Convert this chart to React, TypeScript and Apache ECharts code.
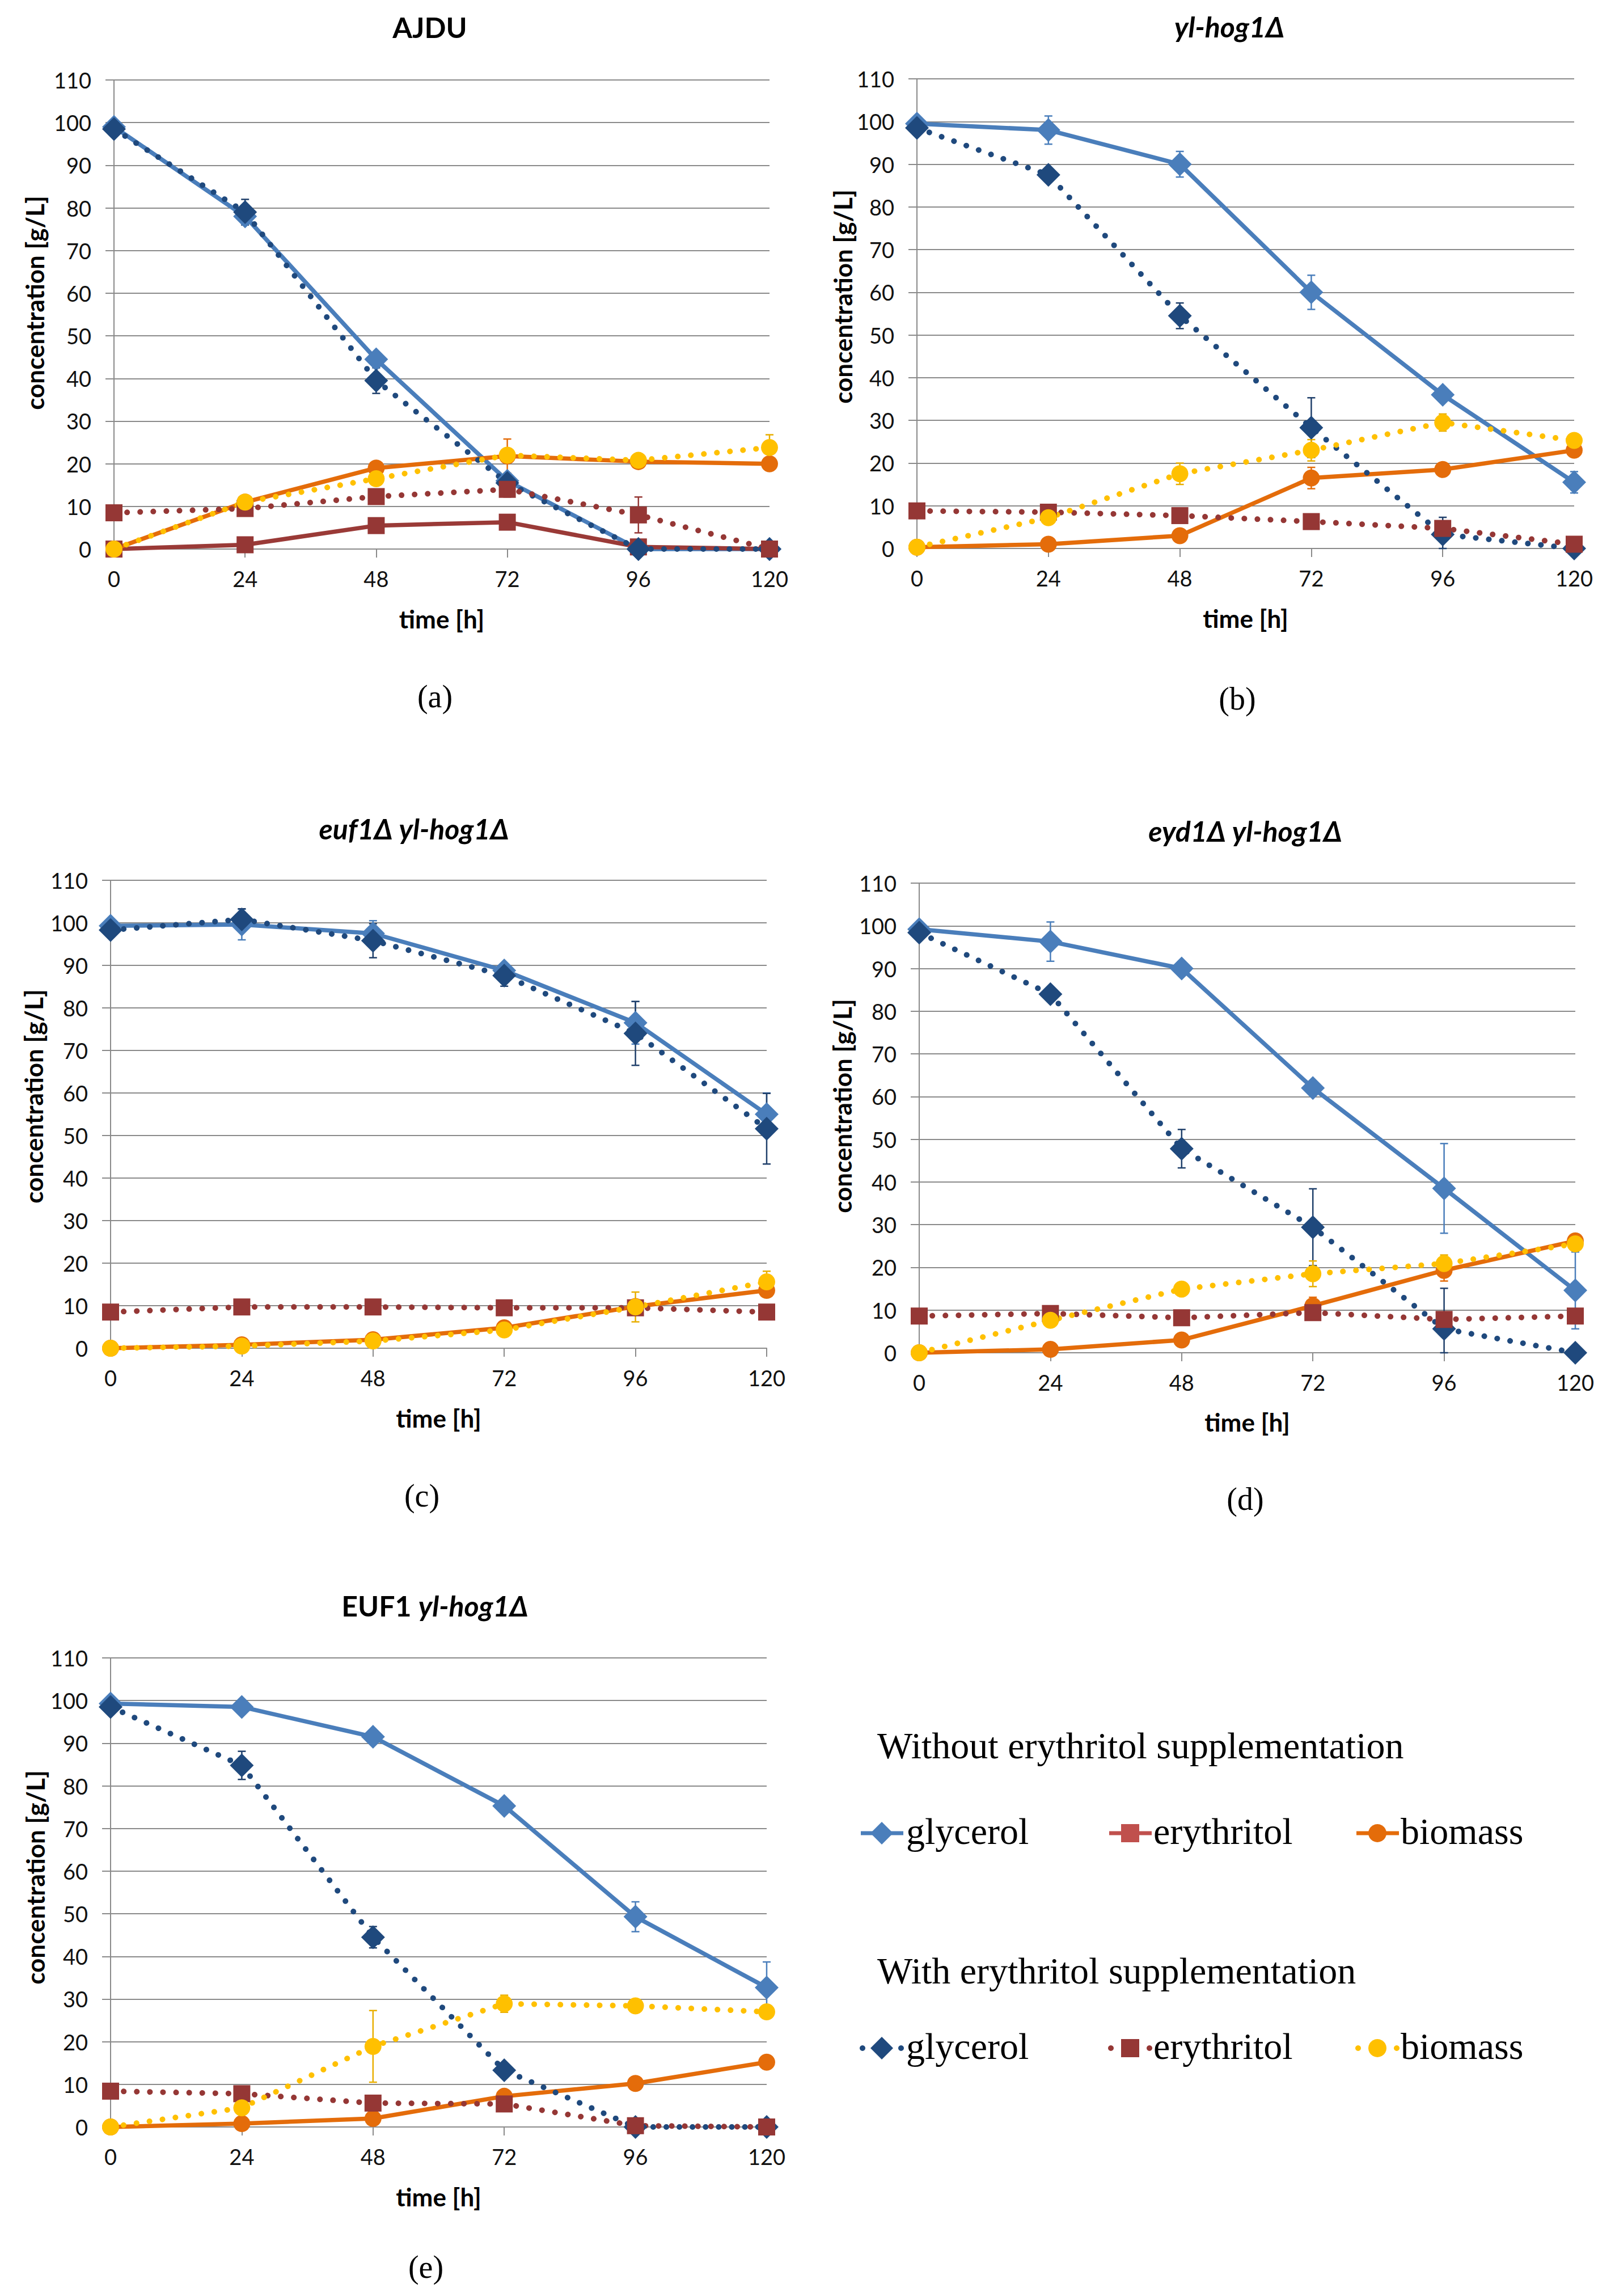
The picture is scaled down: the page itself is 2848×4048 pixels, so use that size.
import React, { useEffect, useRef } from "react";
import * as echarts from "echarts";

// ---------- data ----------
const TIMES = [0, 24, 48, 72, 96, 120];

// (a) AJDU
const aGlyWo = [99, 78, 44.5, 16, 0, 0];
const aEryWo = [0, 1, 5.5, 6.3, 0.5, 0];
const aBioWo = [0, 11, 19, 21.8, 20.5, 20];
const aGlyW = [98.5, 79, 39.5, 15.5, 0, 0];
const aEryW = [8.5, 9.5, 12.3, 14, 8, 0];
const aBioW = [0, 11, 16.5, 22, 20.8, 23.8];
// error bars (sd), 0 = none
const aErrBioWo = [0, 0, 0, 4, 0, 0];
const aErrGlyW = [0, 3, 3, 0, 0, 0];
const aErrEryW = [0, 0, 0, 1.8, 4.2, 0];
const aErrBioW = [0, 0, 0, 0, 0, 3];

// (b) yl-hog1Δ
const bGlyWo = [99.5, 98, 90, 60, 36, 15.5];
const bBioWo = [0.3, 1, 3, 16.5, 18.5, 23];
const bGlyW = [98.5, 87.5, 54.5, 28.3, 3.3, 0];
const bEryW = [8.8, 8.5, 7.7, 6.3, 4.7, 1];
const bBioW = [0.3, 7.2, 17.5, 23, 29.5, 25.3];
const bErrGlyWo = [0, 3.3, 3, 4, 1, 2.5];
const bErrBioWo = [0, 0, 0, 2.5, 0, 0];
const bErrGlyW = [0, 1.5, 3, 7, 4, 0];
const bErrBioW = [0, 0, 2.5, 2.5, 2, 0];

// (c) euf1Δ yl-hog1Δ
const cGlyWo = [99.3, 99.6, 97.5, 88.8, 76.5, 55];
const cBioWo = [0, 0.8, 2, 4.8, 9.8, 13.6];
const cGlyW = [98.3, 100.8, 95.8, 87.6, 74, 51.6];
const cEryW = [8.5, 9.7, 9.7, 9.5, 9.5, 8.5];
const cBioW = [0, 0.5, 1.7, 4.3, 9.7, 15.6];
const cErrGlyWo = [0, 3.6, 3, 1.5, 5, 5];
const cErrGlyW = [0, 2.5, 4, 2.5, 7.5, 8.3];
const cErrBioW = [0, 0, 0, 0, 3.5, 2.5];

// (d) eyd1Δ yl-hog1Δ
const dGlyWo = [99.2, 96.3, 90, 62, 38.5, 14.6];
const dBioWo = [0, 0.8, 3, 11, 19.3, 26.2];
const dGlyW = [98.4, 84, 47.8, 29.4, 5.6, 0];
const dEryW = [8.6, 9.2, 8.2, 9.4, 7.8, 8.6];
const dBioW = [0, 7.6, 14.9, 18.5, 20.9, 25.5];
const dErrGlyWo = [0, 4.6, 0, 0, 10.5, 9];
const dErrBioWo = [0, 0, 0, 2, 2.5, 0];
const dErrGlyW = [0, 0, 4.5, 9, 9.5, 0];
const dErrBioW = [0, 0, 0, 3, 2, 0];

// (e) EUF1 yl-hog1Δ
const eGlyWo = [99.3, 98.5, 91.5, 75.3, 49.3, 32.7];
const eBioWo = [0, 0.8, 2, 7.2, 10.2, 15.2];
const eGlyW = [98.5, 84.8, 44.5, 13.3, 0, 0];
const eEryW = [8.4, 7.8, 5.6, 5.4, 0.3, 0];
const eBioW = [0, 4.5, 18.9, 28.9, 28.4, 27];
const eErrGlyWo = [0, 0, 0, 0, 3.5, 6];
const eErrGlyW = [0, 3.3, 2.5, 0, 0, 0];
const eErrBioW = [0, 0, 8.4, 2, 0, 0];

const LEGEND_HEAD_1 = "Without erythritol supplementation";
const LEGEND_HEAD_2 = "With erythritol supplementation";
const LEGEND_NAMES = ["glycerol", "erythritol", "biomass"];

// ---------- styles ----------
type Key = "glyWo" | "eryWo" | "bioWo" | "glyW" | "eryW" | "bioW";
const ORDER: Key[] = ["glyWo", "eryWo", "bioWo", "glyW", "eryW", "bioW"];
const STYLE: Record<Key, any> = {
  glyWo: { line: "#4A7EBB", marker: "#4A7EBB", symbol: "diamond", size: 42, dotted: false },
  eryWo: { line: "#9A3A37", marker: "#953735", symbol: "rect", size: 30, dotted: false },
  bioWo: { line: "#E46C0A", marker: "#E46C0A", symbol: "circle", size: 30, dotted: false },
  glyW: { line: "#1F497D", marker: "#1F497D", symbol: "diamond", size: 42, dotted: true },
  eryW: { line: "#953735", marker: "#953735", symbol: "rect", size: 30, dotted: true },
  bioW: { line: "#FFC000", marker: "#FFC000", symbol: "circle", size: 30, dotted: true },
};
const ERR_COLOR: Record<Key, string> = {
  glyWo: "#4A7EBB",
  eryWo: "#953735",
  bioWo: "#E46C0A",
  glyW: "#1F3F6A",
  eryW: "#953735",
  bioW: "#E8AE00",
};

const SANS = "Lato, 'Noto Sans', sans-serif";
const SERIF = "'Liberation Serif', serif";
const AXIS_GRAY = "#8A8A8A";

const PANELS: any[] = [
  {
    title: "{n|AJDU}",
    grid: { left: 201, top: 141, width: 1156, height: 827 },
    tx: 758, ty: 51, label: "(a)", lx: 767, ly: 1228, yx: 61, yy: 534, xy: 1091,
    data: { glyWo: aGlyWo, eryWo: aEryWo, bioWo: aBioWo, glyW: aGlyW, eryW: aEryW, bioW: aBioW },
    err: { bioWo: aErrBioWo, glyW: aErrGlyW, eryW: aErrEryW, bioW: aErrBioW },
  },
  {
    title: "{i|yl-hog1Δ}",
    grid: { left: 1617, top: 139, width: 1159, height: 828 },
    tx: 2168, ty: 50, label: "(b)", lx: 2182, ly: 1232, yx: 1486, yy: 523, xy: 1090,
    data: { glyWo: bGlyWo, bioWo: bBioWo, glyW: bGlyW, eryW: bEryW, bioW: bBioW },
    err: { glyWo: bErrGlyWo, bioWo: bErrBioWo, glyW: bErrGlyW, bioW: bErrBioW },
  },
  {
    title: "{i|euf1Δ yl-hog1Δ}",
    grid: { left: 195, top: 1552, width: 1157, height: 825 },
    tx: 730, ty: 1464, label: "(c)", lx: 744, ly: 2637, yx: 59, yy: 1933, xy: 2500,
    data: { glyWo: cGlyWo, bioWo: cBioWo, glyW: cGlyW, eryW: cEryW, bioW: cBioW },
    err: { glyWo: cErrGlyWo, glyW: cErrGlyW, bioW: cErrBioW },
  },
  {
    title: "{i|eyd1Δ yl-hog1Δ}",
    grid: { left: 1621, top: 1557, width: 1157, height: 828 },
    tx: 2196, ty: 1468, label: "(d)", lx: 2196, ly: 2643, yx: 1485, yy: 1950, xy: 2507,
    data: { glyWo: dGlyWo, bioWo: dBioWo, glyW: dGlyW, eryW: dEryW, bioW: dBioW },
    err: { glyWo: dErrGlyWo, bioWo: dErrBioWo, glyW: dErrGlyW, bioW: dErrBioW },
  },
  {
    title: "{n|EUF1 }{i|yl-hog1Δ}",
    grid: { left: 195, top: 2923, width: 1157, height: 827 },
    tx: 767, ty: 2834, label: "(e)", lx: 751, ly: 3997, yx: 62, yy: 3310, xy: 3873,
    data: { glyWo: eGlyWo, bioWo: eBioWo, glyW: eGlyW, eryW: eEryW, bioW: eBioW },
    err: { glyWo: eErrGlyWo, glyW: eErrGlyW, bioW: eErrBioW },
  },
];

function buildOption(): any {
  const grids: any[] = [];
  const xAxes: any[] = [];
  const yAxes: any[] = [];
  const titles: any[] = [];
  const series: any[] = [];
  const graphics: any[] = [];

  PANELS.forEach((p, i) => {
    grids.push({ ...p.grid, containLabel: false });
    xAxes.push({
      type: "value",
      gridIndex: i,
      min: 0,
      max: 120,
      interval: 24,
      axisLine: { show: true, onZero: false, lineStyle: { color: AXIS_GRAY, width: 2 } },
      axisTick: { show: true, length: 15, lineStyle: { color: AXIS_GRAY, width: 2 } },
      axisLabel: { fontSize: 38, fontFamily: SANS, color: "#111", margin: 33 },
      splitLine: { show: false },
    });
    yAxes.push({
      type: "value",
      gridIndex: i,
      min: 0,
      max: 110,
      interval: 10,
      axisLine: { show: true, lineStyle: { color: AXIS_GRAY, width: 2 } },
      axisTick: { show: true, length: 15, lineStyle: { color: AXIS_GRAY, width: 2 } },
      axisLabel: { fontSize: 38, fontFamily: SANS, color: "#111", margin: 40 },
      splitLine: { show: true, lineStyle: { color: AXIS_GRAY, width: 2 } },
    });
    titles.push({
      text: p.title,
      left: p.tx,
      top: p.ty - 28,
      textAlign: "center",
      padding: 0,
      textStyle: {
        fontSize: 50,
        fontWeight: "bold",
        fontFamily: SANS,
        color: "#000",
        rich: {
          n: { fontSize: 50, fontWeight: "bold", fontFamily: SANS, color: "#000" },
          i: { fontSize: 50, fontWeight: "bold", fontStyle: "italic", fontFamily: SANS, color: "#000" },
        },
      },
    });

    // error bars
    const errData: any[] = [];
    ORDER.forEach((k) => {
      const e = p.err[k];
      const v = p.data[k];
      if (!e || !v) return;
      e.forEach((sd: number, j: number) => {
        if (sd > 0) {
          errData.push([TIMES[j], Math.max(0, v[j] - sd), v[j] + sd, ORDER.indexOf(k)]);
        }
      });
    });
    series.push({
      type: "custom",
      xAxisIndex: i,
      yAxisIndex: i,
      z: 1,
      silent: true,
      clip: false,
      data: errData,
      encode: { x: 0, y: [1, 2] },
      renderItem: (params: any, api: any) => {
        const x = api.value(0);
        const lo = api.value(1);
        const hi = api.value(2);
        const c = ERR_COLOR[ORDER[api.value(3)]];
        const t = api.coord([x, hi]);
        const b = api.coord([x, lo]);
        const w = 7;
        const style = { stroke: c, lineWidth: 2.5 };
        return {
          type: "group",
          children: [
            { type: "line", shape: { x1: t[0], y1: t[1], x2: b[0], y2: b[1] }, style },
            { type: "line", shape: { x1: t[0] - w, y1: t[1], x2: t[0] + w, y2: t[1] }, style },
            { type: "line", shape: { x1: b[0] - w, y1: b[1], x2: b[0] + w, y2: b[1] }, style },
          ],
        };
      },
    });

    ORDER.forEach((k) => {
      const v = p.data[k];
      if (!v) return;
      const s = STYLE[k];
      series.push({
        type: "line",
        name: k,
        xAxisIndex: i,
        yAxisIndex: i,
        z: 2,
        clip: false,
        data: TIMES.map((t, j) => [t, v[j]]),
        symbol: s.symbol,
        symbolSize: s.size,
        showSymbol: true,
        itemStyle: { color: s.marker, borderWidth: 0 },
        lineStyle: s.dotted
          ? { color: s.line, width: 10, type: [0.1, 23], cap: "round" }
          : { color: s.line, width: 7.5 },
        emphasis: { disabled: true },
      });
    });

    const g = p.grid;
    graphics.push({
      type: "text",
      x: p.yx,
      y: p.yy,
      rotation: Math.PI / 2,
      style: {
        text: "concentration [g/L]",
        font: `bold 44px ${SANS}`,
        fill: "#000",
        align: "center",
        verticalAlign: "middle",
        textAlign: "center",
        textVerticalAlign: "middle",
      },
    });
    graphics.push({
      type: "text",
      x: g.left + g.width / 2,
      y: p.xy,
      style: {
        text: "time [h]",
        font: `bold 44px ${SANS}`,
        fill: "#000",
        align: "center",
        verticalAlign: "middle",
        textAlign: "center",
        textVerticalAlign: "middle",
      },
    });
    graphics.push({
      type: "text",
      x: p.lx,
      y: p.ly,
      style: {
        text: p.label,
        font: `56px ${SERIF}`,
        fill: "#000",
        align: "center",
        verticalAlign: "middle",
        textAlign: "center",
        textVerticalAlign: "middle",
      },
    });
  });

  // ---------- custom legend ----------
  const textStyle = (text: string) => ({
    text,
    font: `66px ${SERIF}`,
    fill: "#000",
    align: "left",
    verticalAlign: "middle",
    textAlign: "left",
    textVerticalAlign: "middle",
  });
  graphics.push({ type: "text", x: 1547, y: 3077, style: textStyle(LEGEND_HEAD_1) });
  graphics.push({ type: "text", x: 1547, y: 3474, style: textStyle(LEGEND_HEAD_2) });

  const rowY = [3232, 3611];
  const colX = [1518, 1956, 2392];
  const textX = [1598, 2034, 2470];
  const rowKeys: Key[][] = [
    ["glyWo", "eryWo", "bioWo"],
    ["glyW", "eryW", "bioW"],
  ];
  const legendColor: Record<Key, string> = {
    glyWo: "#4A7EBB",
    eryWo: "#C0504D",
    bioWo: "#E46C0A",
    glyW: "#1F497D",
    eryW: "#953735",
    bioW: "#FFC000",
  };
  rowKeys.forEach((keys, r) => {
    const y = rowY[r];
    keys.forEach((k, c) => {
      const x0 = colX[c];
      const cx = x0 + 37;
      const col = legendColor[k];
      const s = STYLE[k];
      if (!s.dotted) {
        graphics.push({ type: "line", shape: { x1: x0, y1: y, x2: x0 + 75, y2: y }, style: { stroke: col, lineWidth: 7 } });
      } else {
        graphics.push({ type: "circle", shape: { cx: x0 + 3, cy: y, r: 5 }, style: { fill: col } });
        graphics.push({ type: "circle", shape: { cx: x0 + 71, cy: y, r: 5 }, style: { fill: col } });
      }
      if (s.symbol === "diamond") {
        graphics.push({
          type: "polygon",
          shape: { points: [[cx, y - 20], [cx + 20, y], [cx, y + 20], [cx - 20, y]] },
          style: { fill: col },
        });
      } else if (s.symbol === "rect") {
        graphics.push({ type: "rect", shape: { x: cx - 16, y: y - 16, width: 32, height: 32 }, style: { fill: col } });
      } else {
        graphics.push({ type: "circle", shape: { cx, cy: y, r: 16 }, style: { fill: col } });
      }
      graphics.push({ type: "text", x: textX[c], y: y - 4, style: textStyle(LEGEND_NAMES[c]) });
    });
  });

  return {
    animation: false,
    backgroundColor: "#ffffff",
    title: titles,
    grid: grids,
    xAxis: xAxes,
    yAxis: yAxes,
    series,
    graphic: { elements: graphics },
  };
}

export default function App() {
  const ref = useRef<HTMLDivElement>(null);
  useEffect(() => {
    document.body.style.margin = "0";
    const chart = echarts.init(ref.current as HTMLDivElement, null, { renderer: "svg" });
    chart.setOption(buildOption());
    return () => chart.dispose();
  }, []);
  return (
    <div
      ref={ref}
      style={{ width: 2848, height: 4048, position: "absolute", left: 0, top: 0, background: "#fff" }}
    />
  );
}
